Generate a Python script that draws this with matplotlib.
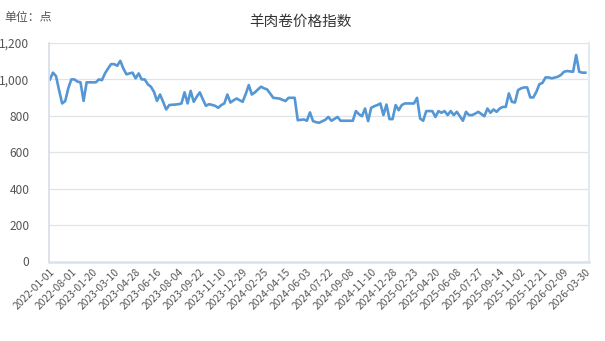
import matplotlib
matplotlib.use("Agg")
import matplotlib.pyplot as plt
from matplotlib.ticker import FuncFormatter

plt.rcParams['font.family'] = ['Noto Sans CJK SC', 'DejaVu Sans']

# tick labels, one every 7 points
tick_labels = ['2022-01-01', '2022-08-01', '2023-01-20', '2023-03-10', '2023-04-28',
               '2023-06-16', '2023-08-04', '2023-09-22', '2023-11-10', '2023-12-29',
               '2024-02-25', '2024-04-15', '2024-06-03', '2024-07-22', '2024-09-08',
               '2024-11-10', '2024-12-28', '2025-02-23', '2025-04-20', '2025-06-08',
               '2025-07-27', '2025-09-14', '2025-11-02', '2025-12-21', '2026-02-09',
               '2026-03-30']

index_values = [
    1000, 1037, 1018, 940, 868, 881, 951, 1000, 1000, 988,
    984, 882, 984, 984, 984, 984, 1000, 996, 1033, 1060,
    1084, 1084, 1075, 1102, 1060, 1028, 1033, 1037, 1006, 1033,
    1000, 1000, 973, 960, 932, 882, 917, 877, 835, 859,
    861, 862, 864, 868, 929, 868, 937, 877, 905, 929,
    890, 855, 864, 860, 855, 844, 859, 868, 917, 873,
    885, 895, 886, 877, 920, 969, 917, 929, 945, 960,
    951, 945, 922, 899, 897, 895, 888, 881, 899, 899,
    899, 776, 778, 780, 773, 819, 771, 765, 762, 770,
    778, 794, 773, 783, 794, 773, 773, 773, 773, 773,
    826, 809, 798, 840, 771, 844, 853, 859, 868, 804,
    862, 782, 782, 859, 831, 859, 868, 868, 868, 868,
    899, 785, 773, 826, 826, 826, 794, 826, 817, 826,
    804, 826, 804, 822, 798, 773, 822, 804, 804, 812,
    822, 810, 798, 840, 817, 835, 822, 840, 849, 849,
    923, 877, 873, 941, 951, 956, 956, 901, 901, 932,
    974, 981, 1011, 1011, 1006, 1010, 1015, 1024, 1042, 1046,
    1044, 1042, 1134, 1042, 1037, 1037,
]

fig = plt.figure(figsize=(6.05, 3.41), dpi=100)
ax = fig.add_axes([49 / 605, 1 - 261.5 / 341, 540 / 605, 218.5 / 341])

x = list(range(len(index_values)))
ax.plot(x, index_values, color='#5596d4', linewidth=1.9, solid_joinstyle='round')

ax.set_ylim(0, 1200)
ax.set_yticks(range(0, 1201, 200))
ax.yaxis.set_major_formatter(FuncFormatter(lambda v, p: f'{int(v):,}'))
ax.set_xlim(-0.3, len(index_values) - 1 + 1.2)
ax.set_xticks(range(0, len(index_values), 7))
ax.set_xticklabels(tick_labels, rotation=45, ha='right', rotation_mode='anchor')

ax.grid(axis='y', color='#e0e3e8', linewidth=0.9)
ax.set_axisbelow(True)
ax.tick_params(axis='y', length=0, pad=14, labelsize=8.6, labelcolor='#555555')
ax.tick_params(axis='x', length=0, pad=4, labelsize=7.4, labelcolor='#555555')

ax.spines['top'].set_visible(False)
ax.spines['left'].set_color('#d5dce8')
ax.spines['left'].set_linewidth(1.2)
ax.spines['right'].set_color('#e3e9f3')
ax.spines['right'].set_linewidth(1.5)
ax.spines['bottom'].set_color('#d9e3f0')
ax.spines['bottom'].set_linewidth(1.8)

fig.text(300 / 605, 1 - 22 / 341, '羊肉卷价格指数', ha='center', va='center',
         fontsize=10.5, color='#333333')
fig.text(4 / 605, 1 - 18 / 341, '单位：点', ha='left', va='center',
         fontsize=8.6, color='#555555')

fig.savefig('out.png', dpi=100)
